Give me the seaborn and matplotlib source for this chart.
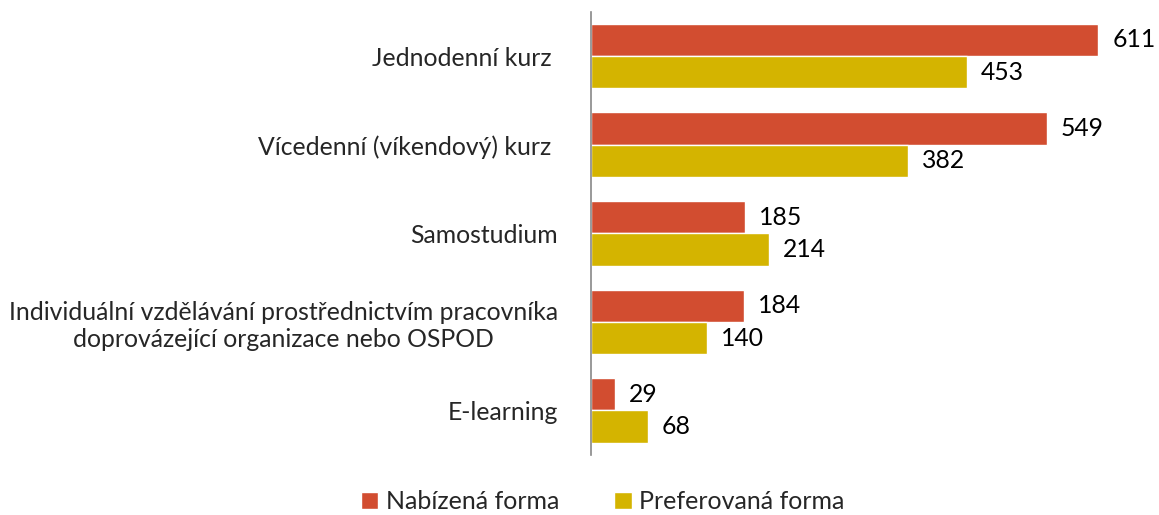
import matplotlib
matplotlib.use("Agg")
import matplotlib.pyplot as plt
import seaborn as sns
import pandas as pd
from matplotlib.patches import Patch

categories = [
    "Jednodenní kurz ",
    "Vícedenní (víkendový) kurz ",
    "Samostudium",
    "Individuální vzdělávání prostřednictvím pracovníka\ndoprovázející organizace nebo OSPOD",
    "E-learning",
]
nabizena = [611, 549, 185, 184, 29]
preferovana = [453, 382, 214, 140, 68]
series_names = ["Nabízená forma", "Preferovaná forma"]
colors = ["#D24D30", "#D4B400"]

df = pd.DataFrame({
    "kategorie": categories * 2,
    "hodnota": nabizena + preferovana,
    "forma": [series_names[0]] * len(categories) + [series_names[1]] * len(categories),
})

sns.set_style("white")
plt.rcParams["font.family"] = ["Lato", "DejaVu Sans"]

fig = plt.figure(figsize=(11.59, 5.15), dpi=100)
ax = fig.add_axes([0.51, 0.117, 0.49, 0.86])

sns.barplot(data=df, y="kategorie", x="hodnota", hue="forma", orient="h",
            palette=colors, width=0.73, ax=ax, legend=False, saturation=1)

for cont in ax.containers:
    ax.bar_label(cont, padding=10, fontsize=17.8, color="#000000")

ax.set_xlim(0, 684)
ax.set_xlabel("")
ax.set_ylabel("")
ax.set_xticks([])
ax.tick_params(axis="y", length=0, pad=24, labelsize=17.8)
for lbl in ax.get_yticklabels():
    lbl.set_multialignment("center")
for s in ["top", "right", "bottom"]:
    ax.spines[s].set_visible(False)
ax.spines["left"].set_color("#888888")
ax.spines["left"].set_linewidth(1.2)

handles = [Patch(facecolor=c) for c in colors]
fig.legend(handles, series_names, loc="lower center", bbox_to_anchor=(0.52, -0.04),
           ncol=2, frameon=False, fontsize=18, handlelength=0.7, handleheight=0.7,
           columnspacing=2.2, handletextpad=0.3)

fig.savefig("out.png", dpi=100)
